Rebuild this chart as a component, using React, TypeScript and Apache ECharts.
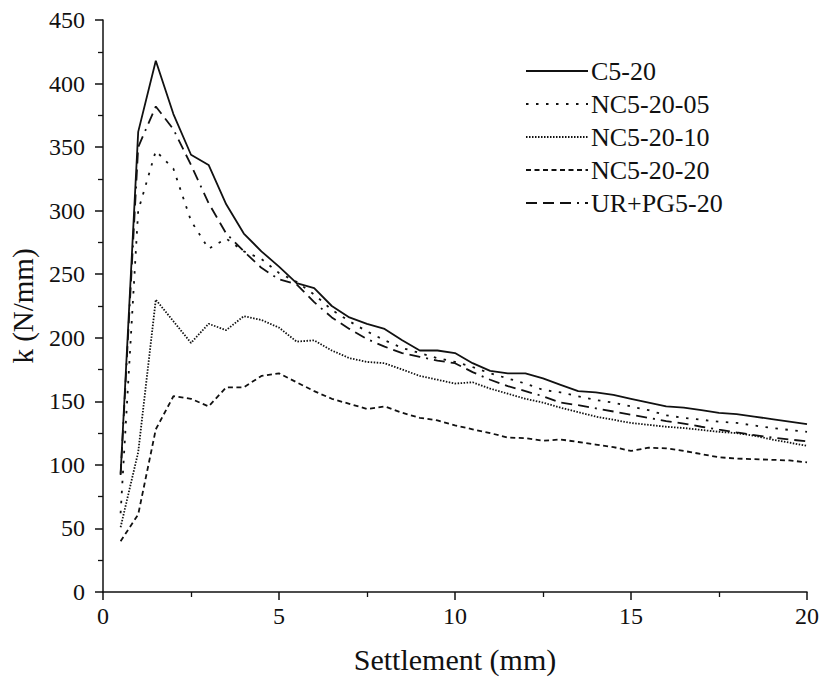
import React, { useEffect, useRef } from "react";
import * as echarts from "echarts";

const settlement = [
  0.5, 1, 1.5, 2, 2.5, 3, 3.5, 4, 4.5, 5, 5.5, 6, 6.5, 7, 7.5, 8, 8.5, 9, 9.5, 10,
  10.5, 11, 11.5, 12, 12.5, 13, 13.5, 14, 14.5, 15, 15.5, 16, 16.5, 17, 17.5, 18, 18.5, 19, 19.5, 20,
];

const c5_20 = [
  93, 362, 418, 376, 344, 336, 305, 282, 268, 256, 243, 239, 225, 216, 211, 207, 198, 190, 190, 188,
  180, 174, 172, 172, 168, 163, 158, 157, 155, 152, 149, 146, 145, 143, 141, 140, 138, 136, 134, 132,
];

const nc5_20_05 = [
  62, 300, 347, 333, 292, 270, 278, 268, 262, 251, 244, 234, 222, 213, 205, 198, 192, 188, 184, 181,
  177, 172, 168, 164, 159, 157, 154, 151, 149, 146, 143, 139, 137, 135.5, 134, 133, 131, 129, 127.5, 126,
];

const nc5_20_10 = [
  51, 110, 230, 213, 196, 211, 206, 217, 214, 208, 197, 198, 190, 184, 181, 180, 175, 170, 167, 164,
  165, 160, 156, 152, 149, 145, 141.5, 138, 135.5, 133, 131.5, 130, 129, 127.5, 126, 125, 123, 120, 117.5, 115,
];

const nc5_20_20 = [
  40, 61, 128, 154, 152, 146, 161, 161, 170, 172, 165, 158, 152, 148, 144, 146, 141, 137, 135, 131,
  128, 125, 121.5, 121, 119, 120, 118, 116, 114, 111, 113.5, 113, 111, 108.5, 106, 105, 104.5, 104, 103.5, 102,
];

const urpg5_20 = [
  92, 350, 382, 364, 336, 306, 282, 268, 255, 246, 242, 228, 216, 207, 199, 193, 188, 185, 182, 180,
  173, 167, 162, 158, 154, 149, 147, 144.5, 142, 139.5, 137, 134.5, 132.5, 130, 127.7, 125.5, 123.5, 121.5, 120, 118.5,
];

const seriesNames = ["C5-20", "NC5-20-05", "NC5-20-10", "NC5-20-20", "UR+PG5-20"];
const seriesValues = [c5_20, nc5_20_05, nc5_20_10, nc5_20_20, urpg5_20];
const seriesDash: any[] = ["solid", [2.5, 7.5], [1.5, 1.5], [5, 3.5], [11, 6, 11, 6, 11, 6, 2, 6]];

const FONT = "'Liberation Serif', 'Times New Roman', serif";
const INK = "#111111";

export default function App() {
  const ref = useRef<HTMLDivElement>(null);

  useEffect(() => {
    if (!ref.current) return;
    const chart = echarts.init(ref.current, undefined, { renderer: "svg" });
    const series = seriesNames.map((name, i) => ({
      name,
      type: "line",
      data: settlement.map((x, j) => [x, seriesValues[i][j]]),
      symbol: "none",
      showSymbol: false,
      lineStyle: { color: INK, width: 1.8, type: seriesDash[i] },
      itemStyle: { color: INK },
    }));
    chart.setOption({
      animation: false,
      backgroundColor: "#ffffff",
      textStyle: { fontFamily: FONT },
      grid: { left: 100, right: 15, top: 20, bottom: 87, containLabel: false },
      legend: {
        orient: "vertical",
        left: 520,
        top: 53,
        itemWidth: 62,
        itemHeight: 14,
        itemGap: 7,
        itemStyle: { opacity: 0 },
        textStyle: { fontFamily: FONT, fontSize: 26, color: INK, lineHeight: 26, padding: [0, 0, 0, -2] },
        data: seriesNames,
      },
      xAxis: {
        type: "value",
        min: 0,
        max: 20,
        interval: 5,
        name: "Settlement (mm)",
        nameLocation: "middle",
        nameGap: 52,
        nameTextStyle: { fontFamily: FONT, fontSize: 30, color: INK },
        axisLine: { show: true, onZero: false, lineStyle: { color: INK, width: 1.5 } },
        axisTick: { show: true, inside: false, length: 8, lineStyle: { color: INK, width: 1.5 } },
        minorTick: { show: true, splitNumber: 2, length: 5, lineStyle: { color: INK, width: 1.3 } },
        axisLabel: { fontFamily: FONT, fontSize: 24, color: INK, margin: 12 },
        splitLine: { show: false },
      },
      yAxis: {
        type: "value",
        min: 0,
        max: 450,
        interval: 50,
        name: "k (N/mm)",
        nameLocation: "middle",
        nameGap: 66,
        nameRotate: 90,
        nameTextStyle: { fontFamily: FONT, fontSize: 29, color: INK },
        axisLine: { show: true, onZero: false, lineStyle: { color: INK, width: 1.5 } },
        axisTick: { show: true, inside: false, length: 8, lineStyle: { color: INK, width: 1.5 } },
        minorTick: { show: true, splitNumber: 2, length: 5, lineStyle: { color: INK, width: 1.3 } },
        axisLabel: { fontFamily: FONT, fontSize: 24, color: INK, margin: 18 },
        splitLine: { show: false },
      },
      series,
    });
    return () => chart.dispose();
  }, []);

  return (
    <div
      ref={ref}
      style={{ position: "fixed", left: 0, top: 0, width: 822, height: 679, background: "#fff" }}
    />
  );
}
